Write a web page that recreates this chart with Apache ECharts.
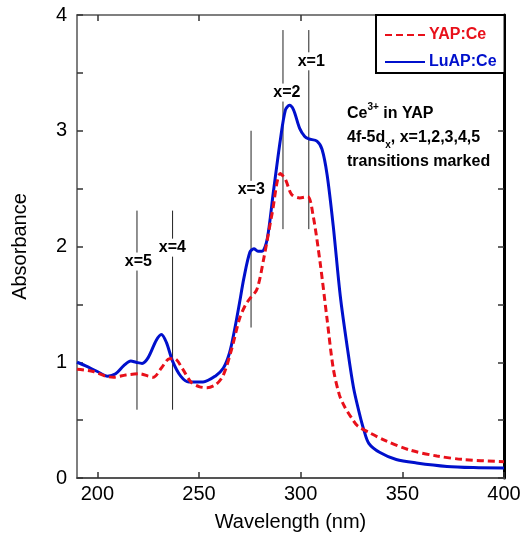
<!DOCTYPE html>
<html>
<head>
<meta charset="utf-8">
<script src="https://cdn.jsdelivr.net/npm/echarts@6/dist/echarts.min.js"></script>
<style>html,body{margin:0;padding:0;background:#fff;}#c{width:522px;height:537px;}</style>
</head>
<body>
<div id="c"></div>
<script>
// ---- data ----
var luapWl  = [190,194,200,205,209,213,216.5,219,222,225,229,231.5,234,237,241,245,252,258,262,265,267.5,270,272,275,277,279,281,283.5,286.5,290,292.5,294.5,296.5,299.5,302,304,308,310.5,313,316,319.5,323,326,329,331,333.5,339,347,357,372,385,400];
var luapAbs = [1.00,0.97,0.92,0.88,0.90,0.97,1.01,1.00,0.99,1.04,1.19,1.24,1.17,1.01,0.88,0.83,0.83,0.88,0.95,1.08,1.28,1.52,1.72,1.95,1.98,1.96,1.96,2.06,2.46,2.92,3.18,3.22,3.18,3.02,2.95,2.93,2.91,2.84,2.62,2.18,1.57,1.12,0.78,0.55,0.42,0.30,0.22,0.16,0.13,0.10,0.09,0.086];
var yapWl   = [190,198,204,208,214,221,225,227.5,231.5,235.5,238,242,246,250,254,258.5,262,266,270,273,275,278.5,282,286,290,292.5,295.5,299.5,303.5,306,309.5,313,316,319,321.5,325,328,334,342,354,367,380,400];
var yapAbs  = [0.94,0.92,0.88,0.87,0.89,0.90,0.88,0.87,0.95,1.03,1.03,0.94,0.83,0.79,0.78,0.81,0.89,1.11,1.38,1.50,1.55,1.63,1.91,2.29,2.63,2.58,2.45,2.42,2.43,2.28,1.87,1.37,0.95,0.72,0.62,0.52,0.45,0.39,0.32,0.24,0.19,0.16,0.14];
var xTicks  = [200,250,300,350,400];
var yTicks  = [0,1,2,3,4];
// transitions 4f-5dx
var transLabels  = ['x=1','x=2','x=3','x=4','x=5'];
var transWl      = [304,291.3,275.6,237,219.5];
var transLow     = [2.15,2.15,1.30,0.59,0.59];
var transHigh    = [3.87,3.87,3.00,2.31,2.31];
var transLabelWl = [305.2,293.2,275.7,236.9,220.2];
var transLabelY  = [3.60,3.33,2.49,1.99,1.87];

function zip(a,b){return a.map(function(v,i){return [v,b[i]];});}
var FF = "'Liberation Sans', Arial, Helvetica, sans-serif";

var transData = transLabels.map(function(t,i){
  return [transWl[i], transLow[i], transHigh[i], transLabelWl[i], transLabelY[i], t];
});

var series = [];
series.push({type:'custom', silent:true, z:1, data:transData,
  encode:{x:[0,3], y:[1,2,4]},
  renderItem:function(params, api){
    var lo = api.coord([api.value(0), api.value(1)]);
    var hi = api.coord([api.value(0), api.value(2)]);
    var lp = api.coord([api.value(3), api.value(4)]);
    return {type:'group', children:[
      {type:'line', shape:{x1:lo[0], y1:lo[1], x2:hi[0], y2:hi[1]}, style:{stroke:'#222', lineWidth:1}},
      {type:'text', x:lp[0], y:lp[1], z2:10, style:{text:transLabels[params.dataIndex], align:'center', verticalAlign:'middle',
        fill:'#000', font:'bold 16px '+FF, backgroundColor:'#fff', padding:[1,0,1,0]}}
    ]};
  }});
series.push({name:'LuAP:Ce', type:'line', symbol:'none', smooth:0.3,
  data: zip(luapWl,luapAbs), lineStyle:{color:'#0010cc', width:3}, itemStyle:{color:'#0010cc'}, z:3});
series.push({name:'YAP:Ce', type:'line', symbol:'none', smooth:0.3,
  data: zip(yapWl,yapAbs), lineStyle:{color:'#e8101a', width:3, type:[7,4]}, itemStyle:{color:'#e8101a'}, z:4});

var chart = echarts.init(document.getElementById('c'));
chart.setOption({
  animation:false,
  backgroundColor:'#fff',
  grid:{left:77, right:18, top:15, bottom:59, outerBoundsMode:'none'},
  xAxis:[{type:'value', position:'bottom', min:190, max:400,
      name:'Wavelength (nm)', nameLocation:'middle', nameGap:34,
      nameTextStyle:{fontFamily:FF, fontSize:20, color:'#000'},
      axisLine:{show:true, onZero:false, lineStyle:{color:'#555', width:2}},
      axisTick:{show:true, inside:true, length:6, customValues:xTicks, lineStyle:{color:'#333', width:1.5}},
      axisLabel:{show:true, customValues:xTicks, margin:6, fontFamily:FF, fontSize:20, color:'#000'},
      splitLine:{show:false}},
    {type:'value', position:'top', min:190, max:400,
      axisLine:{show:true, onZero:false, lineStyle:{color:'#555', width:1.5}},
      axisTick:{show:true, inside:true, length:6, customValues:xTicks, lineStyle:{color:'#333', width:1.5}},
      axisLabel:{show:false}, splitLine:{show:false}}],
  yAxis:[{type:'value', position:'left', min:0, max:4, interval:0.5,
      name:'Absorbance', nameLocation:'middle', nameGap:47,
      nameTextStyle:{fontFamily:FF, fontSize:20, color:'#000'},
      axisLine:{show:true, onZero:false, lineStyle:{color:'#555', width:1.5}},
      axisTick:{show:true, inside:true, length:6, lineStyle:{color:'#333', width:1.5}},
      axisLabel:{show:true, customValues:yTicks, margin:10, fontFamily:FF, fontSize:20, color:'#000'},
      splitLine:{show:false}},
    {type:'value', position:'right', min:0, max:4, interval:0.5,
      axisLine:{show:true, onZero:false, lineStyle:{color:'#000', width:3}},
      axisTick:{show:true, inside:true, length:6, lineStyle:{color:'#333', width:1.5}},
      axisLabel:{show:false}, splitLine:{show:false}}],
  legend:{left:376, top:15, orient:'vertical', itemWidth:40, itemHeight:14, itemGap:11,
    padding:[12,8,3,8], borderColor:'#000', borderWidth:2, backgroundColor:'#fff',
    itemStyle:{opacity:0},
    data:[{name:'YAP:Ce', textStyle:{color:'#e8101a'}},{name:'LuAP:Ce', textStyle:{color:'#0010cc'}}],
    textStyle:{fontFamily:FF, fontSize:16, fontWeight:'bold', padding:[0,0,0,-1]}},
  graphic:[{type:'text', left:347, top:102, z:10,
    style:{text:'{b|Ce}{sup|3+}{b| in YAP}\n{b|4f-5d}{sub|x}{b|, x=1,2,3,4,5}\n{b|transitions marked}',
      fill:'#000', font:'bold 16px '+FF,
      rich:{b:{fontFamily:FF, fontSize:16, fontWeight:'bold', lineHeight:24, fill:'#000'},
        sup:{fontFamily:FF, fontSize:10, fontWeight:'bold', verticalAlign:'top', lineHeight:24, fill:'#000'},
        sub:{fontFamily:FF, fontSize:10, fontWeight:'bold', verticalAlign:'bottom', lineHeight:24, fill:'#000'}}}}],
  series:series
});
</script>
</body>
</html>
